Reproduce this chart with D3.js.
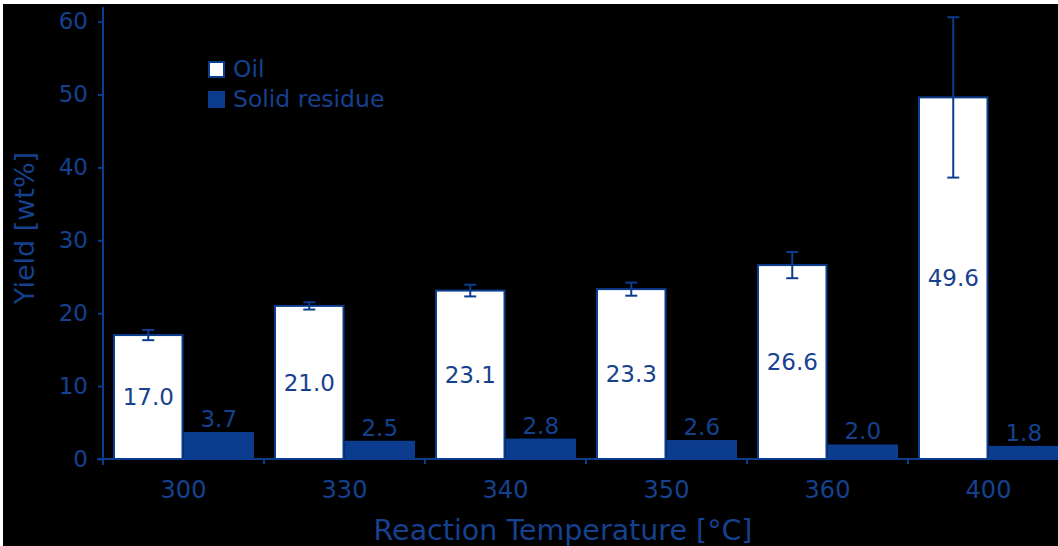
<!DOCTYPE html>
<html>
<head>
<meta charset="utf-8">
<script src="https://cdn.jsdelivr.net/npm/d3@7"></script>
<style>
  html, body { margin: 0; padding: 0; background: #fff; }
  svg { display: block; }
  text { font-family: "DejaVu Sans", sans-serif; }
</style>
</head>
<body>
<svg id="chart"></svg>
<script>
var width = 1058, height = 546;

// data
var temps = ["300", "330", "340", "350", "360", "400"];
var oil = [17.0, 21.0, 23.1, 23.3, 26.6, 49.6];
var oilErr = [0.7, 0.5, 0.8, 0.9, 1.8, 11.0];
var solid = [3.7, 2.5, 2.8, 2.6, 2.0, 1.8];
var yTicks = [0, 10, 20, 30, 40, 50, 60];
var seriesNames = ["Oil", "Solid residue"];

var blue = "#0b3c8e", textBlue = "#15418f";

var svg = d3.select("#chart")
    .attr("width", width)
    .attr("height", height);

// black panel with thin white frame at top/left
svg.append("rect").attr("x", 3).attr("y", 4)
    .attr("width", width - 3).attr("height", height - 4)
    .attr("fill", "#000");

var x0 = 103, y0 = 459;

var x = d3.scaleBand()
    .domain(temps)
    .range([x0, x0 + 161 * temps.length])
    .padding(0);

var xs = d3.scaleBand()
    .domain(["oil", "solid"])
    .range([0, x.bandwidth()])
    .paddingInner(0)
    .paddingOuter(0.142);

var y = d3.scaleLinear()
    .domain([0, 62])
    .range([y0, 7]);

var rows = temps.map(function(t, i) {
    return { t: t, oil: oil[i], err: oilErr[i], solid: solid[i] };
});

// y axis
var yAxis = svg.append("g")
    .attr("transform", "translate(" + x0 + ",0)")
    .call(d3.axisLeft(y).tickValues(yTicks).tickSize(5).tickPadding(10));
yAxis.select(".domain").attr("stroke", blue).attr("stroke-width", 2)
    .attr("d", "M0," + (y0 + 6) + "V7");
yAxis.selectAll(".tick line").attr("stroke", blue).attr("stroke-width", 2);
yAxis.selectAll(".tick text").attr("fill", textBlue)
    .style("font-size", "23px");

// x axis
var xAxis = svg.append("g")
    .attr("transform", "translate(0," + y0 + ")")
    .call(d3.axisBottom(x).tickSize(0).tickPadding(22));
xAxis.select(".domain").attr("stroke", blue).attr("stroke-width", 2)
    .attr("d", "M" + (x0 - 6) + ",0H" + width);
xAxis.selectAll(".tick text").attr("fill", textBlue)
    .style("font-size", "24px");
xAxis.selectAll(".sep")
    .data(temps.slice(1))
    .enter().append("line")
    .attr("x1", function(d) { return x(d); })
    .attr("x2", function(d) { return x(d); })
    .attr("y1", 0).attr("y2", 5)
    .attr("stroke", blue).attr("stroke-width", 2);

// bars
var g = svg.append("g").selectAll("g")
    .data(rows)
    .enter().append("g")
    .attr("transform", function(d) { return "translate(" + x(d.t) + ",0)"; });

g.append("rect")
    .attr("x", xs("oil") + 1)
    .attr("y", function(d) { return y(d.oil); })
    .attr("width", xs.bandwidth() - 2)
    .attr("height", function(d) { return y0 - y(d.oil); })
    .attr("fill", "#fff")
    .attr("stroke", blue)
    .attr("stroke-width", 2);

g.append("rect")
    .attr("x", xs("solid"))
    .attr("y", function(d) { return y(d.solid); })
    .attr("width", xs.bandwidth())
    .attr("height", function(d) { return y0 - y(d.solid); })
    .attr("fill", blue);

// error bars
var cx = xs("oil") + xs.bandwidth() / 2;
g.append("line")
    .attr("x1", cx).attr("x2", cx)
    .attr("y1", function(d) { return y(d.oil + d.err); })
    .attr("y2", function(d) { return y(d.oil - d.err); })
    .attr("stroke", blue).attr("stroke-width", 2);
[1, -1].forEach(function(s) {
    g.append("line")
        .attr("x1", cx - 6).attr("x2", cx + 6)
        .attr("y1", function(d) { return y(d.oil + s * d.err); })
        .attr("y2", function(d) { return y(d.oil + s * d.err); })
        .attr("stroke", blue).attr("stroke-width", 2);
});

// value labels
g.append("text")
    .attr("x", cx)
    .attr("y", function(d) { return (y(d.oil) + y0) / 2; })
    .attr("dy", "0.36em")
    .attr("text-anchor", "middle")
    .attr("fill", textBlue)
    .style("font-size", "23px")
    .text(function(d) { return d.oil.toFixed(1); });

g.append("text")
    .attr("x", xs("solid") + xs.bandwidth() / 2)
    .attr("y", function(d) { return y(d.solid) - 5; })
    .attr("text-anchor", "middle")
    .attr("fill", textBlue)
    .style("font-size", "23px")
    .text(function(d) { return d.solid.toFixed(1); });

// legend
var legend = svg.append("g").attr("transform", "translate(208,61)");
var li = legend.selectAll("g")
    .data(seriesNames)
    .enter().append("g")
    .attr("transform", function(d, i) { return "translate(0," + i * 30 + ")"; });
li.append("rect")
    .attr("x", 1).attr("y", 1)
    .attr("width", 15).attr("height", 15)
    .attr("fill", function(d, i) { return i === 0 ? "#fff" : blue; })
    .attr("stroke", blue).attr("stroke-width", 2);
li.append("text")
    .attr("x", 25).attr("y", 16)
    .attr("fill", textBlue)
    .style("font-size", "23.5px")
    .text(function(d) { return d; });

// axis titles
svg.append("text")
    .attr("x", 563).attr("y", 540)
    .attr("text-anchor", "middle")
    .attr("fill", textBlue)
    .style("font-size", "28.5px")
    .text("Reaction Temperature [°C]");

svg.append("text")
    .attr("transform", "translate(34,228) rotate(-90)")
    .attr("text-anchor", "middle")
    .attr("fill", textBlue)
    .style("font-size", "27px")
    .text("Yield [wt%]");
</script>
</body>
</html>
